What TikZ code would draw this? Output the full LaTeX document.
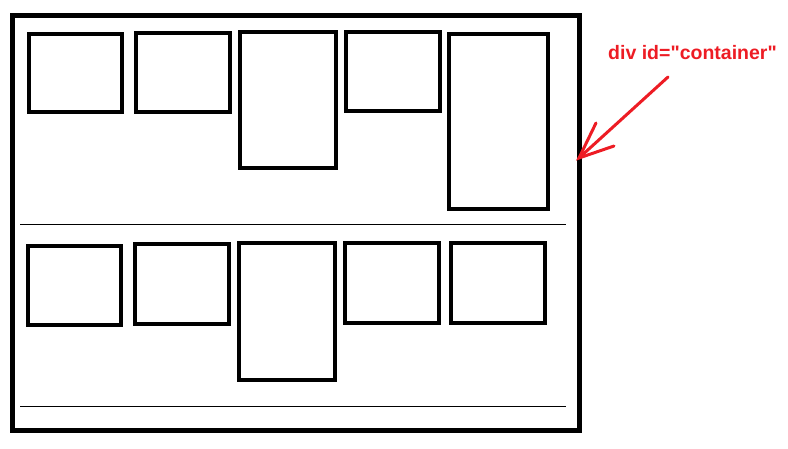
\documentclass[tikz,border=0pt]{standalone}
\usepackage{fontspec}
\setmainfont{Liberation Sans}
\newfontfamily\labelfont[Ligatures=TeXOff]{Liberation Sans}
\usetikzlibrary{positioning}
\definecolor{paintred}{RGB}{237,28,36}

\begin{document}
\begin{tikzpicture}[x=1pt,y=-1pt]
\tikzstyle{every node}=[inner sep=0pt, outer sep=0pt]
\tikzstyle{box}=[draw, line width=4.5pt, rectangle]
\tikzstyle{small}=[box, minimum width=94pt, minimum height=79pt]
\useasboundingbox (0,0) rectangle (788,449);
% container
\draw[line width=5pt] (12.5,15.5) rectangle (579.5,430);
\coordinate (r1a) at (20,225);
\coordinate (r1b) at (566,225);
\coordinate (r2a) at (20,406);
\coordinate (r2b) at (566,406);
\draw[line width=1pt] (r1a) -- (r1b);
\draw[line width=1pt] (r2a) -- (r2b);
% first row
\draw (75.5,73) node (t1) [small, minimum width=93pt, minimum height=78pt] {};
\draw (183,72.5) node (t2) [small] {};
\draw (288,100) node (t3) [box, minimum width=96pt, minimum height=136pt] {};
\draw (393,71.5) node (t4) [small] {};
\draw (498.5,121.5) node (t5) [box, minimum width=99pt, minimum height=175pt] {};
% second row
\draw (74.5,285.5) node (s1) [small, minimum width=93pt] {};
\draw (182,284) node (s2) [small, minimum height=80pt] {};
\draw (287,311.5) node (s3) [box, minimum width=96pt, minimum height=137pt] {};
\draw (392,283) node (s4) [small, minimum height=80pt] {};
\draw (498,283) node (s5) [small, minimum height=80pt] {};
% label
\node (lbl) [anchor=base, text=paintred, font=\labelfont\fontsize{19.5}{23}\selectfont\bfseries] at (692.5,60) {div id="container"};
\coordinate (from) at (668,77);
\coordinate (tip) at (579,158);
\coordinate (h1) at (596,123);
\coordinate (h2) at (614,146);
\draw[paintred, line width=3pt, line cap=round] (from) -- (tip);
\draw[paintred, line width=3pt, line cap=round] (h1) -- (tip) -- (h2);
\end{tikzpicture}
\end{document}
